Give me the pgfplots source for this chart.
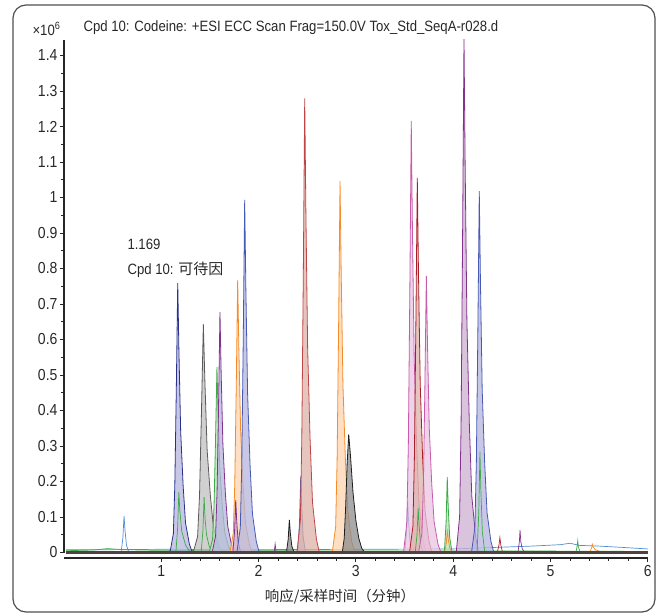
\documentclass[border=0pt]{standalone}
\usepackage{fontspec}
\setmainfont[FakeStretch=0.88]{Liberation Sans}
\newfontfamily\cjk{Noto Sans CJK SC}
\usepackage{pgfplots}
\pgfplotsset{compat=1.18}

% trace colours
\definecolor{navyL}{RGB}{40,50,140}
\definecolor{blueL}{RGB}{70,90,180}
\definecolor{lavF}{RGB}{182,182,222}
\definecolor{grayL}{RGB}{90,90,90}
\definecolor{grayF}{RGB}{192,192,192}
\definecolor{blackL}{RGB}{30,30,30}
\definecolor{blackF}{RGB}{140,140,140}
\definecolor{greenL}{RGB}{60,170,70}
\definecolor{greenF}{RGB}{185,225,185}
\definecolor{purpleL}{RGB}{130,50,140}
\definecolor{purpleF}{RGB}{205,175,210}
\definecolor{orangeL}{RGB}{245,140,40}
\definecolor{orangeF}{RGB}{255,212,175}
\definecolor{brownL}{RGB}{190,70,70}
\definecolor{brownF}{RGB}{222,178,168}
\definecolor{pinkL}{RGB}{200,90,170}
\definecolor{pinkF}{RGB}{232,196,226}
\definecolor{redL}{RGB}{170,30,40}
\definecolor{ltblueL}{RGB}{80,140,210}
\definecolor{baseL}{RGB}{80,66,64}
\definecolor{frameC}{RGB}{80,80,80}
\definecolor{txt}{RGB}{40,40,40}

\pgfplotsset{
  pk/.style 2 args={draw=#1, fill=#2, fill opacity=0.75, line width=0.8bp},
  ln/.style={draw=#1, line width=0.7bp},
}

\begin{document}
\begin{tikzpicture}
\useasboundingbox (-64bp,-61.5bp) rectangle (593bp,552.5bp);
\draw[frameC, line width=1.2bp, rounded corners=13bp] (-51bp,-59.5bp) rectangle (591bp,547.5bp);

\begin{axis}[
    at={(0,0)}, anchor=south west,
    scale only axis,
    width=583.8bp, height=512.6bp,
    xmin=0, xmax=6, ymin=0, ymax=1.444,
    clip=false,
    axis x line=bottom, axis y line=left,
    axis x line shift=5.5bp,
    axis line style={-, line width=1.1bp, black!85},
    xtick={1,2,3,4,5,6},
    minor x tick num=4,
    ytick={0,0.1,0.2,0.3,0.4,0.5,0.6,0.7,0.8,0.9,1,1.1,1.2,1.3,1.4},
    yticklabels={0,0.1,0.2,0.3,0.4,0.5,0.6,0.7,0.8,0.9,1,1.1,1.2,1.3,1.4},
    scaled y ticks=false,
    minor y tick num=1,
    tick align=outside,
    major tick length=4bp, minor tick length=2.5bp,
    tick style={line width=0.8bp, black!85},
    /pgf/number format/assume math mode=true,
    ticklabel style={font=\fontsize{16}{16}\selectfont, text=txt},
    yticklabel style={xshift=1bp},
]
% baseline traces
\addplot[ln=ltblueL] coordinates {(0.02,0.008) (0.5,0.008) (1.0,0.009) (2.0,0.008) (3.0,0.009) (4.0,0.010) (4.4,0.014) (4.8,0.018) (5.1,0.022) (5.2,0.026) (5.3,0.020) (5.5,0.018) (5.7,0.015) (6,0.010)};
\addplot[ln=greenL] coordinates {(0.02,0.005) (0.3,0.007) (0.45,0.011) (0.6,0.008) (1.0,0.006) (2,0.005) (3,0.004) (4,0.004) (5,0.004) (6,0.003)};

% small line-only peaks
\addplot[ln=ltblueL] coordinates {(0.587,0) (0.605,0.041) (0.617,0.103) (0.627,0.062) (0.642,0.021) (0.667,0)};
\addplot[ln=purpleL] coordinates {(2.16,0) (2.17,0.024) (2.18,0)};
\addplot[ln=redL] coordinates {(4.455,0.003) (4.47,0.02) (4.48,0.042) (4.49,0.02) (4.505,0.003)};
\addplot[ln=purpleL] coordinates {(4.667,0.003) (4.68,0.03) (4.687,0.063) (4.695,0.03) (4.71,0.01) (4.73,0.003)};
\addplot[ln=greenL] coordinates {(5.265,0.005) (5.275,0.02) (5.28,0.033) (5.287,0.015) (5.3,0.005)};
\addplot[ln=orangeL] coordinates {(5.41,0.005) (5.425,0.015) (5.43,0.023) (5.44,0.015) (5.46,0.008) (5.5,0.004)};

% peaks
\addplot[pk={navyL}{lavF}] coordinates {(1.089,0) (1.124,0.053) (1.139,0.190) (1.154,0.455) (1.169,0.759) (1.181,0.569) (1.199,0.342) (1.224,0.190) (1.249,0.083) (1.289,0.023) (1.319,0)} \closedcycle;
\addplot[ln=greenL] coordinates {(1.15,0) (1.168,0.07) (1.18,0.17) (1.19,0.12) (1.21,0.06) (1.25,0.02) (1.3,0)};
\addplot[pk={grayL}{grayF}] coordinates {(1.328,0) (1.373,0.045) (1.393,0.161) (1.412,0.386) (1.432,0.643) (1.448,0.482) (1.471,0.289) (1.504,0.161) (1.536,0.071) (1.588,0.019) (1.627,0)} \closedcycle;
\addplot[ln=greenL] coordinates {(1.41,0) (1.428,0.063) (1.44,0.157) (1.45,0.094) (1.465,0.05) (1.49,0.02) (1.52,0)};
\addplot[pk={greenL}{greenF}] coordinates {(1.492,0) (1.527,0.037) (1.542,0.131) (1.557,0.313) (1.572,0.522) (1.584,0.392) (1.602,0.235) (1.627,0.131) (1.652,0.057) (1.692,0.016) (1.722,0)} \closedcycle;
\addplot[pk={purpleL}{lavF}] coordinates {(1.523,0) (1.558,0.047) (1.573,0.169) (1.588,0.406) (1.603,0.677) (1.615,0.508) (1.633,0.305) (1.658,0.169) (1.683,0.074) (1.723,0.020) (1.753,0)} \closedcycle;
\addplot[pk={orangeL}{orangeF}] coordinates {(1.705,0) (1.740,0.054) (1.755,0.192) (1.770,0.461) (1.785,0.768) (1.797,0.576) (1.815,0.346) (1.840,0.192) (1.865,0.084) (1.905,0.023) (1.935,0)} \closedcycle;
\addplot[pk={purpleL}{purpleF}] coordinates {(1.735,0) (1.753,0.059) (1.765,0.148) (1.775,0.089) (1.79,0.03) (1.815,0)} \closedcycle;
\addplot[pk={blueL}{lavF}] coordinates {(1.777,0) (1.812,0.070) (1.827,0.248) (1.842,0.596) (1.857,0.993) (1.869,0.745) (1.887,0.447) (1.912,0.248) (1.937,0.109) (1.977,0.030) (2.007,0)} \closedcycle;
\addplot[pk={blackL}{blackF}] coordinates {(2.286,0) (2.304,0.037) (2.316,0.092) (2.326,0.055) (2.341,0.018) (2.366,0)} \closedcycle;
\addplot[pk={blueL}{lavF}] coordinates {(2.403,0) (2.421,0.086) (2.433,0.214) (2.443,0.128) (2.458,0.043) (2.483,0)} \closedcycle;
\addplot[pk={brownL}{brownF}] coordinates {(2.394,0) (2.429,0.090) (2.444,0.320) (2.459,0.767) (2.474,1.279) (2.486,0.959) (2.504,0.576) (2.529,0.320) (2.554,0.141) (2.594,0.038) (2.624,0)} \closedcycle;
\addplot[pk={orangeL}{orangeF}] coordinates {(2.757,0) (2.792,0.073) (2.807,0.262) (2.822,0.628) (2.837,1.046) (2.849,0.785) (2.867,0.471) (2.892,0.262) (2.917,0.115) (2.957,0.031) (2.987,0)} \closedcycle;
\addplot[pk={blackL}{blackF}] coordinates {(2.86,0) (2.88,0.04) (2.895,0.13) (2.91,0.25) (2.926,0.333) (2.945,0.27) (2.97,0.17) (3.0,0.09) (3.03,0.04) (3.06,0.012) (3.09,0)} \closedcycle;
\addplot[ln=blueL] coordinates {(3.502,0) (3.52,0.057) (3.532,0.143) (3.542,0.086) (3.557,0.029) (3.582,0)};
\addplot[pk={pinkL}{pinkF}] coordinates {(3.489,0) (3.524,0.085) (3.539,0.304) (3.554,0.730) (3.569,1.216) (3.581,0.912) (3.599,0.547) (3.624,0.304) (3.649,0.134) (3.689,0.036) (3.719,0)} \closedcycle;
\addplot[pk={redL}{brownF}] coordinates {(3.551,0) (3.586,0.074) (3.601,0.264) (3.616,0.633) (3.631,1.055) (3.643,0.791) (3.661,0.475) (3.686,0.264) (3.711,0.116) (3.751,0.032) (3.781,0)} \closedcycle;
\addplot[ln=greenL] coordinates {(3.61,0) (3.628,0.05) (3.64,0.125) (3.65,0.075) (3.665,0.025) (3.69,0)};
\addplot[pk={pinkL}{pinkF}] coordinates {(3.644,0) (3.679,0.055) (3.694,0.195) (3.709,0.467) (3.724,0.779) (3.736,0.584) (3.754,0.351) (3.779,0.195) (3.804,0.086) (3.844,0.023) (3.874,0)} \closedcycle;
\addplot[pk={greenL}{greenF}] coordinates {(3.909,0) (3.927,0.085) (3.939,0.212) (3.949,0.127) (3.964,0.042) (3.989,0)} \closedcycle;
\addplot[ln=orangeL] coordinates {(3.91,0) (3.928,0.024) (3.94,0.06) (3.95,0.036) (3.965,0.012) (3.99,0)};
\addplot[pk={purpleL}{purpleF}] coordinates {(4.031,0) (4.066,0.101) (4.081,0.362) (4.096,0.868) (4.111,1.446) (4.123,1.085) (4.141,0.651) (4.166,0.362) (4.191,0.159) (4.231,0.043) (4.261,0)} \closedcycle;
\addplot[pk={blueL}{lavF}] coordinates {(4.188,0) (4.223,0.071) (4.238,0.255) (4.253,0.611) (4.268,1.018) (4.280,0.764) (4.298,0.458) (4.323,0.255) (4.348,0.112) (4.388,0.031) (4.418,0)} \closedcycle;
\addplot[ln=greenL] coordinates {(4.245,0) (4.263,0.114) (4.275,0.284) (4.285,0.170) (4.30,0.057) (4.325,0)};

% merged dark baseline
\addplot[draw=baseL, line width=2bp] coordinates {(0.02,0) (6,0)};
\end{axis}

\node[anchor=west, font=\fontsize{15}{15}\selectfont, text=txt] at (-35bp,523.5bp) {×10\textsuperscript{6}};
\node[anchor=west, font=\fontsize{15}{15}\selectfont, text=txt] at (16bp,524.5bp) {Cpd 10: Codeine: +ESI ECC Scan Frag=150.0V Tox\_Std\_SeqA-r028.d};
\node[anchor=west, font=\fontsize{15}{15}\selectfont, text=txt] at (60bp,308.5bp) {1.169};
\node[anchor=west, font=\fontsize{15}{15}\selectfont, text=txt] at (60bp,282.5bp) {Cpd 10: {\cjk 可待因}};
\node[font=\cjk\fontsize{14.5}{14.5}\selectfont, text=txt] at (276bp,-44.5bp) {响应/采样时间（分钟）};
\end{tikzpicture}
\end{document}
